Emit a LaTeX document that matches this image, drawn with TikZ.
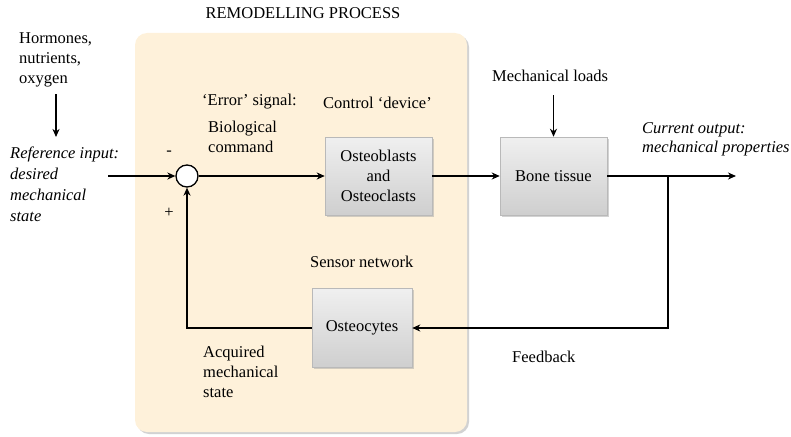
\documentclass[tikz,border=0pt]{standalone}
\usepackage{fontspec}
\setmainfont{Liberation Serif}
\usetikzlibrary{shadows,arrows.meta}
\definecolor{panelcol}{HTML}{FEF1DA}
\begin{document}
\begin{tikzpicture}[x=1pt,y=-1pt,
  every node/.style={font=\fontsize{16.5pt}{20pt}\selectfont, inner sep=0pt},
  panel/.style={fill=panelcol, rounded corners=12pt, drop shadow={shadow xshift=2pt, shadow yshift=-2pt, fill=black!35}},
  block/.style={draw=gray!55, line width=0.5pt, top color=gray!12, bottom color=gray!38, align=center,
    minimum width=107pt, minimum height=78pt,
    drop shadow={shadow xshift=1.5pt, shadow yshift=-1.5pt, fill=black!35}},
  arr/.style={line width=1.3pt, -{Stealth[length=8pt,width=7pt,inset=2.5pt]}},
  ln/.style={line width=1.3pt},
  lbl/.style={anchor=west, align=left}]
\useasboundingbox (0,0) rectangle (791,436);
\fill[panel] (135,33) rectangle (467,432);

\node[block] (ob) at (378.5,176) {Osteoblasts\\and\\Osteoclasts};
\node[block] (bt) at (553.5,176) {Bone tissue};
\node[block, minimum width=100pt, minimum height=79pt] (oc) at (362,328) {Osteocytes};
\node[circle, draw, line width=1.3pt, fill=white, minimum size=22pt] (sum) at (187,176) {};

\coordinate (in) at (108,176);
\coordinate (out) at (736,176);
\coordinate (j) at (668,176);
\coordinate (jb) at (668,328);
\coordinate (lb) at (187,328);
\coordinate (h1) at (56,94);
\coordinate (h2) at (56,137);
\coordinate (m1) at (553.5,95);

\draw[arr] (in) -- (sum);
\draw[arr] (sum) -- (ob);
\draw[arr] (ob) -- (bt);
\draw[arr] (bt) -- (out);
\draw[arr] (j) -- (jb) -- (oc);
\draw[arr] (oc) -- (lb) -- (sum);
\draw[arr] (h1) -- (h2);
\draw[arr] (m1) -- (bt);

\node (title) at (303,13) {REMODELLING PROCESS};
\node[lbl] (horm) at (19,60) {Hormones,\\nutrients,\\oxygen};
\node[lbl, font=\fontsize{16.5pt}{21pt}\selectfont\itshape] (ref) at (10,184) {Reference input:\\desired\\mechanical\\state};
\node (minus) at (169,153) {-};
\node (plus) at (169,213) {+};
\node[lbl] (err) at (202,102) {‘Error’ signal:};
\node[lbl] (bio) at (208,137) {Biological\\command};
\node[lbl] (ctrl) at (323,103) {Control ‘device’};
\node[lbl] (mech) at (492,76) {Mechanical loads};
\node[lbl, font=\fontsize{16.5pt}{19pt}\selectfont\itshape] (cur) at (642,139.5) {Current output:\\mechanical properties};
\node[lbl] (sens) at (310,262) {Sensor network};
\node[lbl] (acq) at (203,372) {Acquired\\mechanical\\state};
\node[lbl] (fb) at (512,357) {Feedback};
\end{tikzpicture}
\end{document}
